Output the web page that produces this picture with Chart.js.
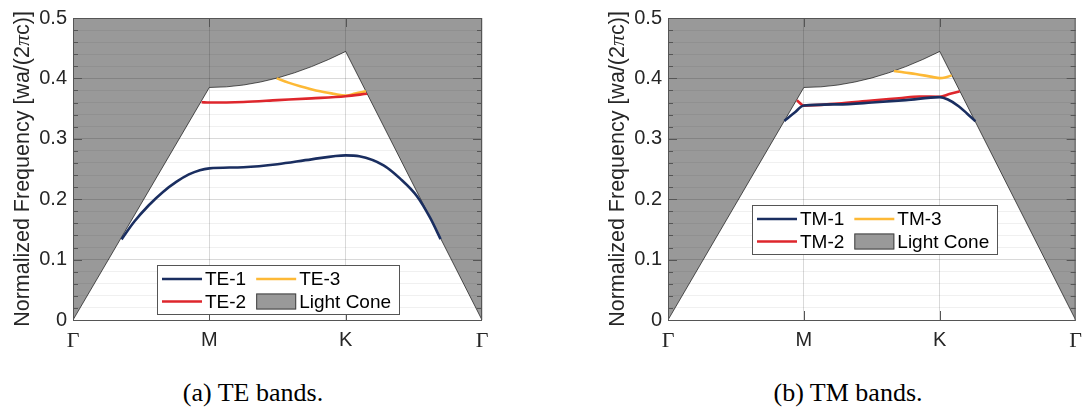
<!DOCTYPE html>
<html>
<head>
<meta charset="utf-8">
<script src="https://cdn.jsdelivr.net/npm/chart.js@4.4.1/dist/chart.umd.min.js"></script>
<style>
  body { margin: 0; width: 1090px; height: 412px; background: #fff; position: relative; overflow: hidden; }
  .panel { position: absolute; top: 0; height: 360px; }
  #teBox { left: 0; width: 545px; }
  #tmBox { left: 595px; width: 495px; }
  .caption {
    position: absolute; top: 376px; line-height: 34px; white-space: nowrap;
    font-family: "Liberation Serif", "Times New Roman", serif; font-size: 26px; color: #000;
    transform: translateX(-50%);
  }
</style>
</head>
<body>
<div class="panel" id="teBox"><canvas id="teChart"></canvas></div>
<div class="panel" id="tmBox"><canvas id="tmChart"></canvas></div>
<div class="caption" style="left:253px">(a) TE bands.</div>
<div class="caption" style="left:848px">(b) TM bands.</div>

<script>
// high-symmetry points along the path
const bandTicks = ['Γ', 'M', 'K', 'Γ']

// light line (edge of the light cone)
const lightConeX = [0, 1, 1.125, 1.25, 1.375, 1.5, 1.625, 1.75, 1.875, 2, 3]
const lightConeY = [0, 0.385, 0.386, 0.389, 0.394, 0.4007, 0.4093, 0.4195, 0.4313, 0.4446, 0]

// TE bands
const te1X = [0.356, 0.45, 0.556, 0.66, 0.76, 0.85, 0.93, 1.0, 1.25, 1.5, 1.75, 2.0, 2.1, 2.278, 2.4, 2.523, 2.62, 2.696]
const te1Y = [0.1335, 0.163, 0.19, 0.212, 0.229, 0.241, 0.248, 0.251, 0.253, 0.258, 0.266, 0.2725, 0.271, 0.256, 0.234, 0.205, 0.169, 0.134]
const te2X = [0.943, 1.0, 1.25, 1.5, 1.75, 2.0, 2.156]
const te2Y = [0.3605, 0.36, 0.361, 0.364, 0.367, 0.3705, 0.3745]
const te3X = [1.494, 1.58, 1.666, 1.74, 1.813, 1.91, 2.0, 2.07, 2.149]
const te3Y = [0.4, 0.393, 0.387, 0.3825, 0.3786, 0.3747, 0.3715, 0.375, 0.3786]

// TM bands
const tm1X = [0.856, 0.93, 1.0, 1.25, 1.5, 1.75, 2.0, 2.06, 2.139, 2.2, 2.262]
const tm1Y = [0.3296, 0.343, 0.355, 0.357, 0.36, 0.364, 0.369, 0.365, 0.354, 0.342, 0.329]
const tm2X = [0.949, 1.0, 1.25, 1.5, 1.7, 1.85, 2.0, 2.07, 2.147]
const tm2Y = [0.3636, 0.355, 0.3585, 0.3635, 0.3672, 0.37, 0.3695, 0.374, 0.3786]
const tm3X = [1.663, 1.74, 1.822, 1.944, 2.0, 2.04, 2.088]
const tm3Y = [0.4123, 0.4097, 0.4074, 0.4025, 0.4005, 0.4015, 0.405]

const navy = 'rgb(26, 46, 96)'
const red = 'rgb(222, 38, 44)'
const yellow = 'rgb(253, 185, 54)'
const coneFill = 'rgba(0, 0, 0, 0.4)'
const textColor = '#262626'
const sans = '"Liberation Sans", Arial, sans-serif'
const serif = '"Liberation Serif", "Times New Roman", serif'

const toPoints = (xs, ys) => xs.map((x, i) => ({ x, y: ys[i] }))
const isMajor = v => Math.round(v * 50) % 5 === 0

// box, inward tick marks, y title and the two-column legend
const framePlugin = {
    id: 'frame',
    afterDatasetsDraw(chart) {
        const { ctx, chartArea: a, scales: { x, y } } = chart
        ctx.save()
        ctx.strokeStyle = '#555'
        ctx.lineWidth = 1
        y.ticks.forEach(t => {
            const py = Math.round(y.getPixelForValue(t.value)) + 0.5
            const len = isMajor(t.value) ? 9 : 5
            ctx.beginPath()
            ctx.moveTo(a.left, py); ctx.lineTo(a.left + len, py)
            ctx.moveTo(a.right, py); ctx.lineTo(a.right - len, py)
            ctx.stroke()
        })
        ;[1, 2].forEach(v => {
            const px = Math.round(x.getPixelForValue(v)) + 0.5
            ctx.beginPath()
            ctx.moveTo(px, a.bottom); ctx.lineTo(px, a.bottom - 9)
            ctx.moveTo(px, a.top); ctx.lineTo(px, a.top + 9)
            ctx.stroke()
        })
        ctx.strokeRect(a.left + 0.5, a.top + 0.5, a.right - a.left - 1, a.bottom - a.top)
        ctx.restore()
    },
    afterDraw(chart, args, opts) {
        const { ctx, chartArea: a } = chart

        // rotated y title, with an italic serif pi
        const parts = [
            ['Normalized Frequency [wa/(2', `21.5px ${sans}`],
            ['π', `italic 22px ${serif}`],
            ['c)]', `21.5px ${sans}`]
        ]
        ctx.save()
        let total = 0
        parts.forEach(p => { ctx.font = p[1]; total += ctx.measureText(p[0]).width })
        ctx.translate(28.5, (a.top + a.bottom) / 2)
        ctx.rotate(-Math.PI / 2)
        ctx.fillStyle = textColor
        ctx.textBaseline = 'alphabetic'
        let cx = -total / 2
        parts.forEach(p => {
            ctx.font = p[1]
            ctx.fillText(p[0], cx, 0)
            cx += ctx.measureText(p[0]).width
        })
        ctx.restore()

        // legend: column 1 = first two bands, column 2 = third band + light cone
        const ds = chart.data.datasets
        const cols = [[ds[0], ds[1]], [ds[2], ds[3]]]
        ctx.save()
        ctx.font = `19px ${sans}`
        const colWidths = cols.map(c => Math.max(...c.map(d => ctx.measureText(d.label).width)))
        const lineLen = 40
        const boxW = 5 + lineLen + 3 + colWidths[0] + 10 + lineLen + 3 + colWidths[1] + 8
        const boxH = 49
        const bx = opts.x, by = opts.y
        ctx.fillStyle = '#fff'
        ctx.fillRect(bx, by, boxW, boxH)
        ctx.strokeStyle = '#555'
        ctx.lineWidth = 1
        ctx.strokeRect(Math.round(bx) + 0.5, Math.round(by) + 0.5, Math.round(boxW), boxH)
        const rows = [by + 14, by + 36.5]
        let colX = bx + 5
        cols.forEach((c, ci) => {
            c.forEach((d, ri) => {
                const ry = rows[ri]
                if (d.fill === 'end') {
                    ctx.fillStyle = d.backgroundColor
                    ctx.fillRect(colX, ry - 8, lineLen, 16)
                    ctx.strokeStyle = '#444'
                    ctx.strokeRect(colX + 0.5, ry - 8 + 0.5, lineLen - 1, 15)
                } else {
                    ctx.strokeStyle = d.borderColor
                    ctx.lineWidth = 2.6
                    ctx.beginPath()
                    ctx.moveTo(colX, ry); ctx.lineTo(colX + lineLen, ry)
                    ctx.stroke()
                    ctx.lineWidth = 1
                }
                ctx.fillStyle = '#000'
                ctx.textBaseline = 'middle'
                ctx.fillText(d.label, colX + lineLen + 3, ry + 1)
            })
            colX += lineLen + 3 + colWidths[ci] + 10
        })
        ctx.restore()
    }
}

const makeChart = (canvasId, bands, legendAt, padRight) => {
    const datasets = bands.map(b => ({
        label: b.label,
        data: toPoints(b.x, b.y),
        borderColor: b.color,
        borderWidth: 2.6,
        pointRadius: 0,
        fill: false,
        cubicInterpolationMode: 'monotone'
    }))
    datasets.push({
        label: 'Light Cone',
        data: toPoints(lightConeX, lightConeY),
        borderColor: 'rgba(0, 0, 0, 0.8)',
        borderWidth: 0.8,
        backgroundColor: coneFill,
        fill: 'end',
        pointRadius: 0,
        tension: 0
    })

    return new Chart(document.getElementById(canvasId), {
        type: 'line',
        data: { datasets },
        plugins: [framePlugin],
        options: {
            responsive: true,
            maintainAspectRatio: false,
            animation: false,
            layout: { padding: { top: 14, right: padRight, left: 0, bottom: 0 } },
            plugins: {
                legend: { display: false },
                tooltip: { enabled: false },
                frame: legendAt
            },
            scales: {
                x: {
                    type: 'linear',
                    min: 0,
                    max: 3,
                    afterBuildTicks: s => { s.ticks = bandTicks.map((_, i) => ({ value: i })) },
                    afterFit: s => { s.height = 40 },
                    border: { display: false },
                    grid: { drawTicks: false, color: 'rgba(0, 0, 0, 0.15)' },
                    ticks: {
                        autoSkip: false,
                        maxRotation: 0,
                        padding: 8,
                        color: textColor,
                        callback: v => bandTicks[v] ?? '',
                        font: c => (c.tick && bandTicks[c.tick.value] === 'Γ')
                            ? { family: serif, size: 22 }
                            : { family: sans, size: 20 }
                    }
                },
                y: {
                    min: 0,
                    max: 0.5,
                    afterBuildTicks: s => { s.ticks = Array.from({ length: 26 }, (_, i) => ({ value: i / 50 })) },
                    afterFit: s => { s.width = 73 },
                    border: { display: false },
                    grid: {
                        drawTicks: false,
                        color: c => isMajor(c.tick.value) ? 'rgba(0, 0, 0, 0.15)' : 'rgba(0, 0, 0, 0.06)'
                    },
                    ticks: {
                        autoSkip: false,
                        padding: 6,
                        color: textColor,
                        font: { family: sans, size: 20 },
                        callback: v => isMajor(v) ? String(Math.round(v * 10) / 10) : ''
                    }
                }
            }
        }
    })
}

window.addEventListener('DOMContentLoaded', () => {
    makeChart('teChart', [
        { label: 'TE-1', x: te1X, y: te1Y, color: navy },
        { label: 'TE-2', x: te2X, y: te2Y, color: red },
        { label: 'TE-3', x: te3X, y: te3Y, color: yellow }
    ], { x: 157, y: 265 }, 63)

    makeChart('tmChart', [
        { label: 'TM-1', x: tm1X, y: tm1Y, color: navy },
        { label: 'TM-2', x: tm2X, y: tm2Y, color: red },
        { label: 'TM-3', x: tm3X, y: tm3Y, color: yellow }
    ], { x: 157, y: 205 }, 13)
})
</script>
</body>
</html>
